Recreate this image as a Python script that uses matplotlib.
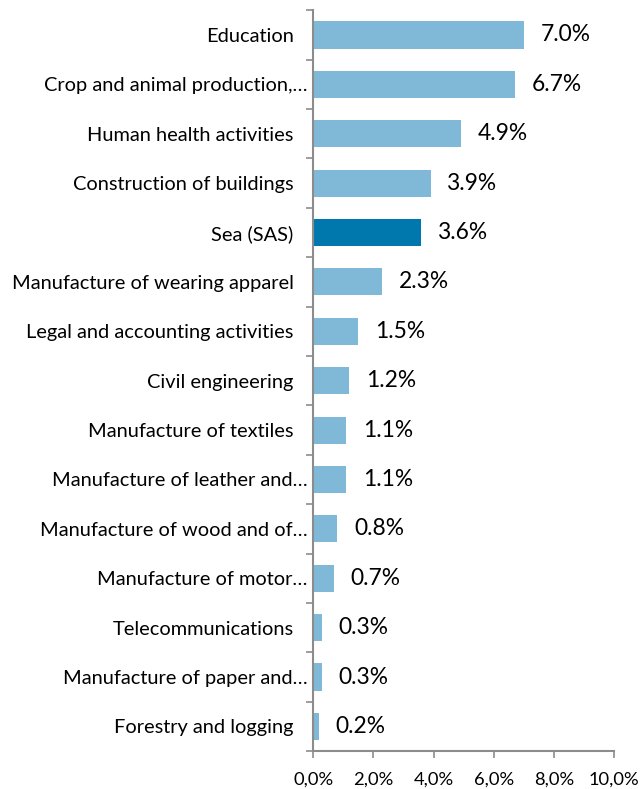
import matplotlib.pyplot as plt
from matplotlib.ticker import FixedLocator, FuncFormatter
from matplotlib.transforms import ScaledTranslation

plt.rcParams['font.family'] = ['Lato', 'DejaVu Sans']

# share of employment by sector
sectors = [
    "Education",
    "Crop and animal production,…",
    "Human health activities",
    "Construction of buildings",
    "Sea (SAS)",
    "Manufacture of wearing apparel",
    "Legal and accounting activities",
    "Civil engineering",
    "Manufacture of textiles",
    "Manufacture of leather and…",
    "Manufacture of wood and of…",
    "Manufacture of motor…",
    "Telecommunications",
    "Manufacture of paper and…",
    "Forestry and logging",
]
shares = [7.0, 6.7, 4.9, 3.9, 3.6, 2.3, 1.5, 1.2, 1.1, 1.1, 0.8, 0.7, 0.3, 0.3, 0.2]
highlight = "Sea (SAS)"

light = "#7fb9d7"
dark = "#0078ad"
grey = "#8c8c8c"

fig = plt.figure(figsize=(6.43, 7.89), dpi=100)
ax = fig.add_axes([0.487, 0.048, 0.468, 0.939])

ypos = list(range(len(sectors)))
colors = [dark if s == highlight else light for s in sectors]
bars = ax.barh(ypos, shares, height=0.55, color=colors)

for bar, v in zip(bars, shares):
    ax.annotate(f"{v:.1f}%", (bar.get_width(), bar.get_y() + bar.get_height() / 2),
                xytext=(12, 0), textcoords="offset points",
                va="center", ha="left", fontsize=16.4, color="black")

ax.set_ylim(len(sectors) - 0.5, -0.5)
ax.set_xlim(0, 10)
ax.set_yticks(ypos)
ax.set_yticklabels(sectors, fontsize=14.4)
ax.yaxis.set_minor_locator(FixedLocator([i - 0.5 for i in range(len(sectors) + 1)]))
ax.tick_params(axis="y", which="major", length=0, pad=14)
ax.tick_params(axis="y", which="minor", length=5, width=1.2, color=grey)

# truncated names run a little closer to the axis
for lbl in ax.get_yticklabels():
    if lbl.get_text().endswith("…"):
        lbl.set_transform(lbl.get_transform() + ScaledTranslation(10 / 72, 0, fig.dpi_scale_trans))

ax.set_xticks(range(0, 11, 2))
ax.xaxis.set_major_formatter(FuncFormatter(lambda x, _: f"{x:.1f}%".replace(".", ",")))
ax.tick_params(axis="x", length=5, width=1.2, color=grey, labelsize=13.2, pad=10)

for side in ["top", "right"]:
    ax.spines[side].set_visible(False)
for side in ["left", "bottom"]:
    ax.spines[side].set_color(grey)
    ax.spines[side].set_linewidth(1.5)

fig.savefig("out.png", dpi=100)
